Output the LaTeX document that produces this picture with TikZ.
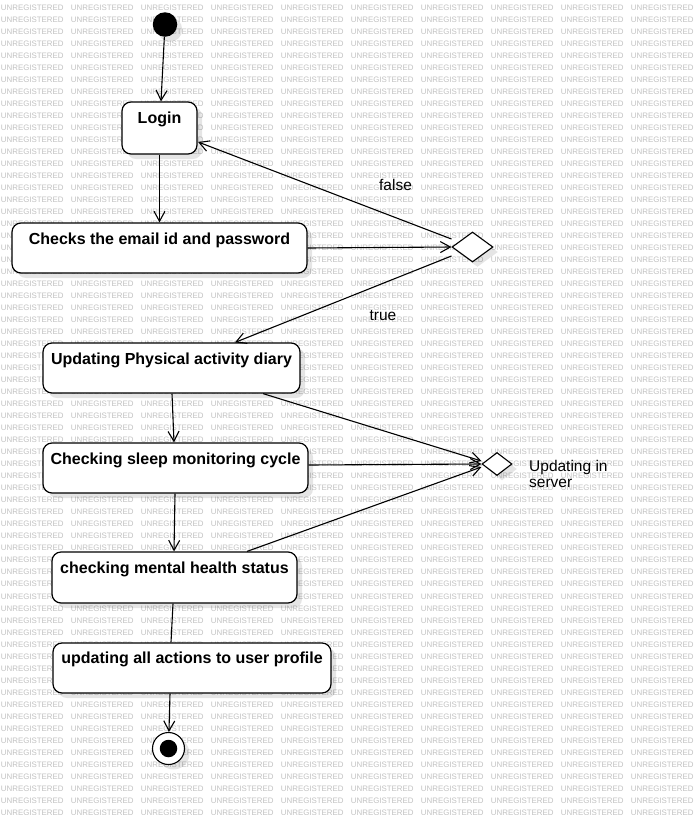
\documentclass[tikz,border=0pt]{standalone}
\usepackage{fontspec}
\setmainfont{Liberation Sans}
\usetikzlibrary{arrows.meta,shapes.geometric,shadows,calc}
\begin{document}
\begin{tikzpicture}[x=1pt,y=-1pt,
  wm/.style={anchor=west,inner sep=0pt,text=black!24,font=\fontsize{7.9}{8}\selectfont},
  shad/.style={drop shadow={shadow xshift=5pt,shadow yshift=-5pt,opacity=0.1,fill=black}},
  act/.style={draw=black,line width=1.2pt,fill=white,rounded corners=9pt,inner xsep=2pt,inner ysep=0pt,
    text height=21.3pt,font=\bfseries\fontsize{16}{18}\selectfont,shad},
  dec/.style={diamond,draw=black,line width=1.1pt,fill=white,inner sep=0pt,shad},
  lbl/.style={inner sep=0pt,font=\fontsize{15.5}{16}\selectfont},
  arr/.style={draw=black,line width=1.1pt,-{Straight Barb[length=10pt,width=11pt,line width=1.1pt]}},
  plain/.style={draw=black,line width=1.1pt}
]
\fill[white] (0,0) rectangle (697,815);
\useasboundingbox (0,0) rectangle (697,815);
% watermark
\foreach \r in {0,...,67}{
  \foreach \c in {0,...,9}{
    \node[wm] (wm-\r-\c) at ({70*\c+0.7},{7.3+12.02*\r}) {UNREGISTERED};
  }
}
% start / end
\node[circle,fill=black,inner sep=0pt,minimum size=24.5pt,shad] (init) at (165,24.5) {};
\node[circle,draw=black,line width=1.1pt,fill=white,inner sep=0pt,minimum size=32pt,shad] (final) at (168.5,748.5) {};
\node[circle,fill=black,inner sep=0pt,minimum size=17.5pt] (finalin) at (final.center) {};
% activities
\node[act,minimum width=75pt,minimum height=52pt,text depth=30.7pt] (login) at (159.5,128) {Login};
\node[act,minimum width=295pt,minimum height=50pt,text depth=28.7pt] (checks) at (159.5,248) {Checks the email id and password};
\node[act,minimum width=257pt,minimum height=50pt,text depth=28.7pt] (phys) at (171.5,368) {Updating Physical activity diary};
\node[act,minimum width=265pt,minimum height=50pt,text depth=28.7pt] (sleep) at (175.5,468) {Checking sleep monitoring cycle};
\node[act,minimum width=245pt,minimum height=51pt,text depth=29.7pt] (mental) at (174.5,577.5) {checking mental health status};
\node[act,minimum width=278pt,minimum height=50pt,text depth=29.7pt,text height=20.3pt] (all) at (192,668) {updating all actions to user profile};
% decisions
\node[dec,minimum width=41pt,minimum height=30pt] (d1) at (472.5,247) {};
\node[dec,minimum width=30pt,minimum height=23pt] (d2) at (497,464) {};
% labels
\node[lbl] (lfalse) at (395.5,185) {false};
\node[lbl] (ltrue) at (383,315.5) {true};
\node[lbl,anchor=north west,align=left] (lserver) at (529,460.5) {Updating in\\server};
% connectors
\draw[arr] (init) -- ($(login.north)+(1.5,0)$);
\draw[arr] (login.south) -- (checks.north);
\draw[arr] (checks.east) -- (d1.west);
\draw[arr] ($(d1.west)+(0,-8)$) -- ($(login.east)+(0.5,14)$);
\draw[arr] ($(d1.west)+(0,9)$) -- ($(phys.north)+(63.5,0)$);
\draw[arr] ($(phys.south)+(0.5,0)$) -- ($(sleep.north)+(-1.5,0)$);
\draw[arr] ($(phys.south)+(91.5,0)$) -- ($(d2.west)+(0,-3)$);
\draw[arr] ($(sleep.east)+(0,-3)$) -- (d2.west);
\draw[arr] ($(mental.north)+(72.5,0)$) -- ($(d2.west)+(0,3)$);
\draw[arr] ($(sleep.south)+(-0.5,0)$) -- ($(mental.north)+(-0.5,0)$);
\draw[plain] ($(mental.south)+(-1.5,0)$) -- ($(all.north)+(-21,0)$);
\draw[arr] ($(all.south)+(-22,0)$) -- (final);
\end{tikzpicture}
\end{document}
